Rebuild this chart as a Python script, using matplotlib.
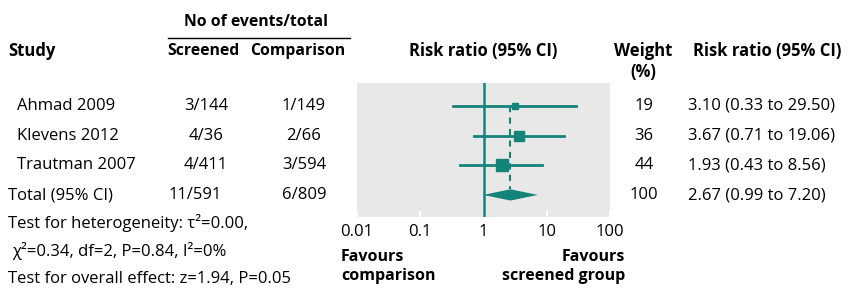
import matplotlib
matplotlib.use("Agg")
import matplotlib.pyplot as plt
import numpy as np

plt.rcParams['font.family'] = ['Open Sans', 'DejaVu Sans']

# data
studies = ["Ahmad 2009", "Klevens 2012", "Trautman 2007"]
screened = ["3/144", "4/36", "4/411"]
comparison = ["1/149", "2/66", "3/594"]
weights = [19, 36, 44]
rr = [3.10, 3.67, 1.93]
rr_lo = [0.33, 0.71, 0.43]
rr_hi = [29.50, 19.06, 8.56]
total_screened = "11/591"
total_comparison = "6/809"
total_weight = 100
total_rr, total_lo, total_hi = 2.67, 0.99, 7.20
xticks = [0.01, 0.1, 1, 10, 100]
xtick_labels = ["0.01", "0.1", "1", "10", "100"]

W, H = 851, 291
teal = "#13847a"
fs = 12

fig = plt.figure(figsize=(W / 100, H / 100), dpi=100)

def txt(x, y, s, **kw):
    # place text using pixel coords measured from the top-left
    kw.setdefault("fontsize", fs)
    kw.setdefault("va", "center")
    fig.text(x / W, 1 - y / H, s, **kw)

# forest panel
ax = fig.add_axes([357 / W, (H - 217) / H, (610 - 357) / W, (217 - 83) / H])
ax.set_facecolor("#e8e8e8")
ax.set_xscale("log")
ax.set_xlim(0.01, 100)
row_gap = 29.5
ax.set_ylim(3 + 22 / row_gap, -23 / row_gap)
for s in ax.spines.values():
    s.set_visible(False)
ax.set_yticks([])
ax.set_xticks(xticks)
ax.set_xticklabels(xtick_labels, fontsize=fs)
ax.xaxis.set_minor_locator(matplotlib.ticker.NullLocator())
ax.tick_params(axis="x", direction="in", length=4, width=1.5, color="white", pad=5)

ax.axvline(1, color=teal, lw=1.8, zorder=2)
ax.plot([total_rr, total_rr], [0, 3 - 0.2], color=teal, lw=1.5, ls=(0, (3, 2.5)), zorder=2)

ys = np.arange(len(studies))
sizes = [5, 7.5, 8.5]
for i in range(len(studies)):
    ax.plot([rr_lo[i], rr_hi[i]], [ys[i], ys[i]], color=teal, lw=2, zorder=3)
    ax.plot(rr[i], ys[i], marker="s", ms=sizes[i], color=teal, mec=teal, zorder=4)

dh = 0.19
ax.fill([total_lo, total_rr, total_hi, total_rr], [3, 3 - dh, 3, 3 + dh],
        color=teal, zorder=4, lw=0)

# headers
hs = 11.3
txt(256, 22, "No of events/total", fontweight="bold", ha="center", fontsize=hs)
fig.add_artist(plt.Line2D([168 / W, 350 / W], [1 - 38 / H, 1 - 38 / H],
                          color="black", lw=1))
txt(8, 51, "Study", fontweight="bold", ha="left")
txt(203, 51, "Screened", fontweight="bold", ha="center", fontsize=hs)
txt(298, 51, "Comparison", fontweight="bold", ha="center", fontsize=hs)
txt(483, 51, "Risk ratio (95% CI)", fontweight="bold", ha="center")
txt(643, 51, "Weight", fontweight="bold", ha="center")
txt(643, 72, "(%)", fontweight="bold", ha="center")
txt(693, 51, "Risk ratio (95% CI)", fontweight="bold", ha="left")

row_px = [106, 136, 165, 195]
for i in range(len(studies)):
    y = row_px[i]
    txt(17, y, studies[i], ha="left")
    txt(206, y, screened[i], ha="center")
    txt(304, y, comparison[i], ha="center")
    txt(644, y, str(weights[i]), ha="center")
    txt(688, y, f"{rr[i]:.2f} ({rr_lo[i]:.2f} to {rr_hi[i]:.2f})", ha="left")

y = row_px[3]
txt(8, y, "Total (95% CI)", ha="left")
txt(195, y, total_screened, ha="center")
txt(304, y, total_comparison, ha="center")
txt(644, y, str(total_weight), ha="center")
txt(688, y, f"{total_rr:.2f} ({total_lo:.2f} to {total_hi:.2f})", ha="left")

txt(8, 223, "Test for heterogeneity: τ²=0.00,", ha="left")
txt(12, 251, "χ²=0.34, df=2, P=0.84, I²=0%", ha="left")
txt(8, 279, "Test for overall effect: z=1.94, P=0.05", ha="left")

txt(341, 257, "Favours", fontweight="bold", ha="left", fontsize=11.5)
txt(341, 276, "comparison", fontweight="bold", ha="left", fontsize=11.5)
txt(625, 257, "Favours", fontweight="bold", ha="right", fontsize=11.5)
txt(625, 276, "screened group", fontweight="bold", ha="right", fontsize=11.5)

fig.savefig("out.png", dpi=100, facecolor="white")
